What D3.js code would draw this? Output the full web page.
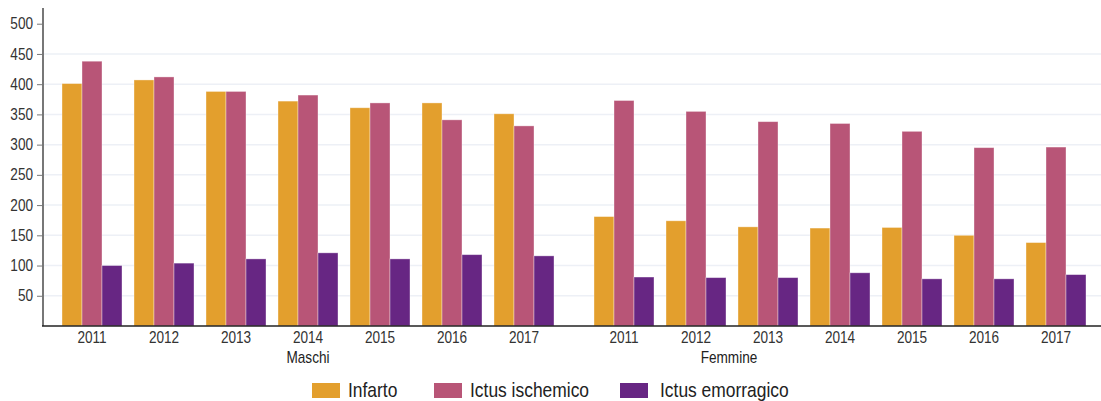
<!DOCTYPE html>
<html>
<head>
<meta charset="utf-8">
<script src="https://cdn.jsdelivr.net/npm/d3@7"></script>
<style>
  body { margin: 0; background: #fff; }
  svg { display: block; font-family: "Liberation Sans", Arial, sans-serif; }
</style>
</head>
<body>
<div class="container"></div>
<script>
'use strict';

// Chart data
const years = ["2011", "2012", "2013", "2014", "2015", "2016", "2017"];
const groups = ["Maschi", "Femmine"];
const seriesNames = ["Infarto", "Ictus ischemico", "Ictus emorragico"];
const seriesColors = ["#e39f2d", "#b85577", "#672683"];
const yTicks = [50, 100, 150, 200, 250, 300, 350, 400, 450, 500];

// values per year, Maschi
const infartoM   = [401, 407, 388, 372, 361, 369, 351];
const ischemicoM = [438, 412, 388, 382, 369, 341, 331];
const emorragM   = [100, 104, 111, 121, 111, 118, 116];
// values per year, Femmine
const infartoF   = [181, 174, 164, 162, 163, 150, 138];
const ischemicoF = [373, 355, 338, 335, 322, 295, 296];
const emorragF   = [81, 80, 80, 88, 78, 78, 85];

const seriesM = [infartoM, ischemicoM, emorragM];
const seriesF = [infartoF, ischemicoF, emorragF];

// flatten into rows for d3
let rows = [];
groups.forEach(function (g, gi) {
  const src = gi === 0 ? seriesM : seriesF;
  years.forEach(function (yr, yi) {
    seriesNames.forEach(function (s, si) {
      rows.push({ group: g, year: yr, series: s, value: src[si][yi] });
    });
  });
});

const width = 1101;
const height = 401;
const plotLeft = 43, plotRight = 1101, plotTop = 8, plotBottom = 326;
// the source text looks horizontally squeezed
const squeeze = 0.85;

const svg = d3.select("div.container").append("svg")
    .attr("width", width)
    .attr("height", height);

const y = d3.scaleLinear()
    .domain([0, 526])
    .range([plotBottom, plotTop]);

// outer scale: Maschi / Femmine
const xGroup = d3.scaleBand()
    .domain(groups)
    .range([56, 1092])
    .paddingInner(28 / 532);

// years inside each group
const xYear = d3.scaleBand()
    .domain(years)
    .range([0, xGroup.bandwidth()])
    .paddingInner(1 / 6)
    .paddingOuter(1 / 12);

// the three bars inside each year
const xSeries = d3.scaleBand()
    .domain(seriesNames)
    .range([0, xYear.bandwidth()]);

const color = d3.scaleOrdinal()
    .domain(seriesNames)
    .range(seriesColors);

// gridlines (not at top tick)
svg.append("g")
  .selectAll("line")
  .data(yTicks.filter(d => d < 500))
  .enter()
  .append("line")
    .attr("x1", plotLeft)
    .attr("x2", plotRight)
    .attr("y1", d => y(d))
    .attr("y2", d => y(d))
    .attr("stroke", "#edf0f6")
    .attr("stroke-width", 1.5);

// bars
svg.append("g")
  .selectAll("rect")
  .data(rows)
  .enter()
  .append("rect")
    .attr("x", d => xGroup(d.group) + xYear(d.year) + xSeries(d.series))
    .attr("y", d => y(d.value))
    .attr("width", xSeries.bandwidth())
    .attr("height", d => y(0) - y(d.value))
    .attr("fill", d => color(d.series))
    .attr("stroke", "#fff")
    .attr("stroke-opacity", 0.45)
    .attr("stroke-width", 0.8);

// y axis
const yAxis = svg.append("g")
    .attr("transform", "translate(" + plotLeft + ",0)")
    .call(d3.axisLeft(y).tickValues(yTicks).tickSize(6));
yAxis.select(".domain")
    .attr("d", "M0," + plotTop + "V" + plotBottom)
    .attr("stroke", "#777")
    .attr("stroke-width", 2);
yAxis.selectAll(".tick line").attr("stroke", "#777");
yAxis.selectAll(".tick text")
    .attr("x", -10 / squeeze)
    .attr("transform", "scale(" + squeeze + ",1)")
    .attr("fill", "#333")
    .style("font-size", "16px")
    .style("font-family", "'Liberation Sans', Arial, sans-serif");

// x axis (years, one per group)
groups.forEach(function (g) {
  const ax = svg.append("g")
      .attr("transform", "translate(" + xGroup(g) + "," + plotBottom + ")")
      .call(d3.axisBottom(xYear).tickSize(0));
  ax.select(".domain").remove();
  ax.selectAll(".tick text")
      .attr("y", 17.3)
      .attr("dy", null)
      .attr("transform", "scale(" + squeeze + ",1)")
      .attr("fill", "#333")
      .style("font-size", "16px")
      .style("font-family", "'Liberation Sans', Arial, sans-serif");
});

// baseline
svg.append("line")
    .attr("x1", plotLeft - 1)
    .attr("x2", plotRight)
    .attr("y1", y(0))
    .attr("y2", y(0))
    .attr("stroke", "#222")
    .attr("stroke-width", 1.5);

// group labels
const groupLabelX = {
  "Maschi": xGroup("Maschi") + xYear("2014") + xYear.bandwidth() / 2,
  "Femmine": xGroup("Femmine") + xYear("2012") + xYear.bandwidth() + 3
};
svg.append("g")
  .selectAll("text")
  .data(groups)
  .enter()
  .append("text")
    .attr("transform", d => "translate(" + groupLabelX[d] + ",362.5) scale(" + squeeze + ",1)")
    .attr("text-anchor", "middle")
    .attr("fill", "#222")
    .style("font-size", "16px")
    .text(d => d);

// legend
const legendX = [312, 434, 620];
const legend = svg.append("g")
  .selectAll("g")
  .data(seriesNames)
  .enter()
  .append("g")
    .attr("transform", (d, i) => "translate(" + legendX[i] + ",383)");

legend.append("rect")
    .attr("width", 28)
    .attr("height", 15)
    .attr("fill", d => color(d));

legend.append("text")
    .attr("transform", (d, i) => "translate(" + (i === 2 ? 40 : 36) + ",14) scale(" + squeeze + ",1)")
    .attr("fill", "#222")
    .style("font-size", "20.5px")
    .text(d => d);
</script>
</body>
</html>
